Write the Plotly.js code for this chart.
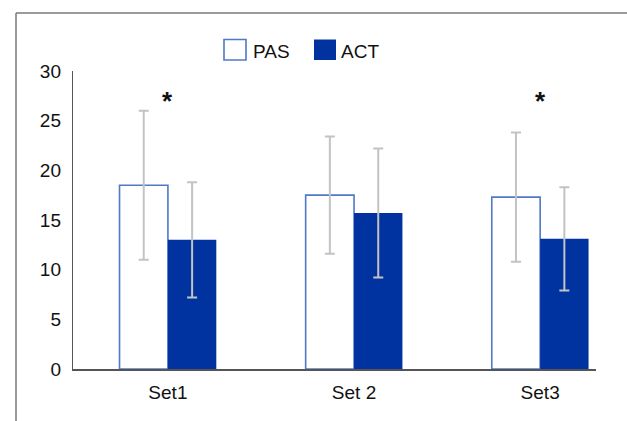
<!DOCTYPE html>
<html>
<head>
<meta charset="utf-8">
<script src="https://cdn.plot.ly/plotly-3.0.1.min.js"></script>
<style>html,body{margin:0;padding:0;background:#fff;}#chart{width:627px;height:421px;}</style>
</head>
<body>
<div id="chart"></div>
<script>
var categories = ["Set1", "Set 2", "Set3"];
var pasValues = [18.5, 17.5, 17.3];
var pasErrors = [7.5, 5.9, 6.5];
var actValues = [13.0, 15.7, 13.1];
var actErrors = [5.8, 6.5, 5.2];
var seriesNames = ["PAS", "ACT"];
var sigCategories = ["Set1", "Set3"];
var sigLevel = 27.4;
var yTicks = [0, 5, 10, 15, 20, 25, 30];

var FONT = '"Liberation Sans", Arial, Helvetica, sans-serif';
var W = 627, H = 421;
var M = {l: 73, r: 31, t: 71, b: 52};
var pw = W - M.l - M.r, ph = H - M.t - M.b;
function px(x){ return (x - M.l) / pw; }
function py(y){ return (H - M.b - y) / ph; }

var errStyle = {type: 'data', visible: true, color: '#c3c3c3', thickness: 2, width: 5};

var traces = [
  {type: 'bar', name: seriesNames[0], x: categories, y: pasValues,
   error_y: Object.assign({array: pasErrors}, errStyle),
   marker: {color: '#ffffff', line: {color: '#4f78c8', width: 1.6}}, showlegend: false},
  {type: 'bar', name: seriesNames[1], x: categories, y: actValues,
   error_y: Object.assign({array: actErrors}, errStyle),
   marker: {color: '#0033a0', line: {width: 0}}, showlegend: false}
];

var annotations = sigCategories.map(function(c){
  return {x: c, y: sigLevel, xref: 'x', yref: 'y', text: '<b>*</b>', showarrow: false,
          font: {family: FONT, size: 26, color: '#111'}, yanchor: 'middle', yshift: -4};
});
annotations.push({xref: 'paper', yref: 'paper', x: px(251), y: py(51), xanchor: 'left', yanchor: 'middle',
  text: seriesNames[0], showarrow: false, font: {family: FONT, size: 19, color: '#111'}});
annotations.push({xref: 'paper', yref: 'paper', x: px(339), y: py(51), xanchor: 'left', yanchor: 'middle',
  text: seriesNames[1], showarrow: false, font: {family: FONT, size: 19, color: '#111'}});

var shapes = [
  {type: 'line', xref: 'paper', yref: 'paper', x0: px(16), x1: px(627), y0: py(13), y1: py(13), line: {color: '#7a7a7a', width: 1.5}},
  {type: 'line', xref: 'paper', yref: 'paper', x0: px(16), x1: px(16), y0: py(13), y1: py(421), line: {color: '#7a7a7a', width: 1.5}},
  {type: 'rect', xref: 'paper', yref: 'paper', x0: px(224), x1: px(246), y0: py(39.5), y1: py(60), fillcolor: '#ffffff', line: {color: '#4f78c8', width: 1.6}},
  {type: 'rect', xref: 'paper', yref: 'paper', x0: px(314), x1: px(336), y0: py(39.5), y1: py(60), fillcolor: '#0033a0', line: {width: 0}}
];

var layout = {
  width: W, height: H,
  margin: M,
  paper_bgcolor: '#ffffff', plot_bgcolor: '#ffffff',
  font: {family: FONT, size: 19, color: '#111'},
  barmode: 'group', bargap: 0.48, bargroupgap: 0,
  showlegend: false,
  xaxis: {type: 'category', range: [-0.51, 2.3], showline: true, linecolor: '#555', linewidth: 2,
          ticks: '', showgrid: false, zeroline: false, tickfont: {family: FONT, size: 19, color: '#111'},
          ticklabelstandoff: 5},
  yaxis: {range: [0, 30], tickvals: yTicks, showline: true, linecolor: '#555', linewidth: 1.2,
          ticks: '', showgrid: false, zeroline: false, tickfont: {family: FONT, size: 19, color: '#111'},
          ticklabelstandoff: 7},
  annotations: annotations,
  shapes: shapes
};

Plotly.newPlot('chart', traces, layout, {displayModeBar: false, staticPlot: true});
</script>
</body>
</html>
